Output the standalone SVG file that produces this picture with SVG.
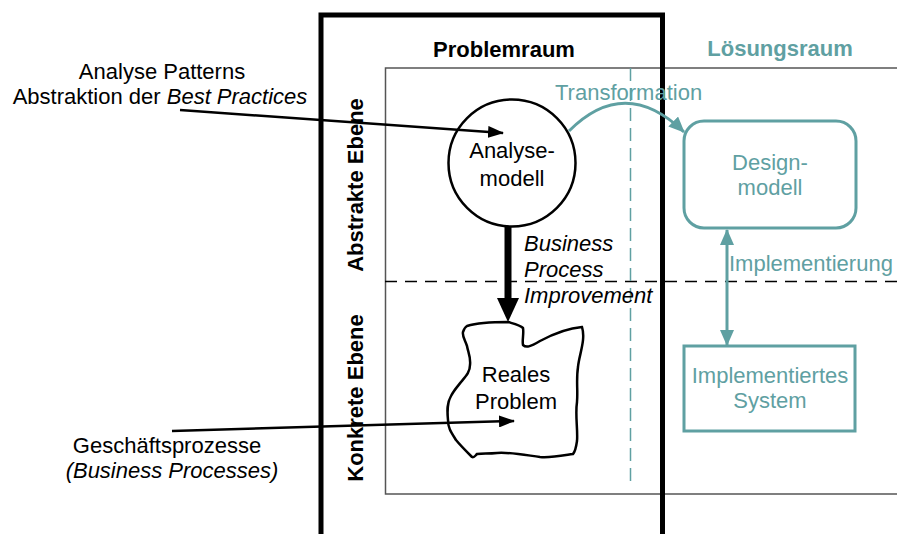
<svg xmlns="http://www.w3.org/2000/svg" width="897" height="534" viewBox="0 0 897 534">
<style>
text{font-family:"Liberation Sans",Arial,sans-serif;font-size:22px;fill:#000}
.b{font-weight:bold}
.i{font-style:italic}
.t{fill:#5fa0a2}
.mid{text-anchor:middle}
.teal{stroke:#5fa0a2;fill:none;stroke-width:3}
.blk{stroke:#000;fill:none;stroke-width:2.5}
</style>
<defs>
<marker id="ab" markerWidth="16" markerHeight="12" refX="15" refY="6" orient="auto" markerUnits="userSpaceOnUse"><path d="M0,0 L16,6 L0,12 z" fill="#000"/></marker>
<marker id="at" markerWidth="16" markerHeight="14" refX="15" refY="7" orient="auto-start-reverse" markerUnits="userSpaceOnUse"><path d="M0,0 L16,7 L0,14 z" fill="#5fa0a2"/></marker>
</defs>
<g id="frames">
<rect x="385.5" y="68" width="530" height="426" fill="none" stroke="#555" stroke-width="1.5"/>
<line x1="385" y1="281.5" x2="897" y2="281.5" stroke="#000" stroke-width="1.3" stroke-dasharray="12,8"/>
<line x1="630.5" y1="68" x2="630.5" y2="488" stroke="#5fa0a2" stroke-width="1.5" stroke-dasharray="13,7"/>
<path d="M321,540 V15 H662.5 V540" fill="none" stroke="#000" stroke-width="5"/>
<text class="b mid" x="504" y="57">Problemraum</text>
<text class="b mid t" x="780" y="56">Lösungsraum</text>
<text class="b mid" transform="translate(363,185) rotate(-90)">Abstrakte Ebene</text>
<text class="b mid" transform="translate(363,398) rotate(-90)">Konkrete Ebene</text>
</g>
<g id="analysemodell">
<circle cx="512" cy="163" r="63.5" fill="#fff" stroke="#000" stroke-width="2.5"/>
<text class="mid" x="512" y="158">Analyse-</text>
<text class="mid" x="512" y="186">modell</text>
</g>
<g id="reales-problem">
<path d="M467,326 C480,322 495,322 508,322 C515,324 520,325 523,328 C524,334 522,340 523,345 C526,348 530,347 540,341 C555,333 570,328 582,327 C586,340 579,355 578,367 C576,380 578,390 577,402 C575,415 578,430 577,441 C576,448 575,452 573,454 C560,456 550,458 540,457 C525,455 510,452 497,453 C488,454 482,453 477,454 C475,456 474,458 472,457 C465,450 460,445 456,440 C451,432 448,428 448,420 C447,410 447,403 451,396 C454,390 458,386 461,382 C466,376 470,372 470,365 C471,357 468,352 467,346 C465,340 462,336 463,332 C464,329 465,327 467,326 z" fill="#fff" stroke="#000" stroke-width="2.5"/>
<text class="mid" x="516" y="382">Reales</text>
<text class="mid" x="516" y="409">Problem</text>
</g>
<g id="designmodell">
<rect x="684" y="121" width="172" height="107" rx="20" class="teal"/>
<text class="mid t" x="770" y="170">Design-</text>
<text class="mid t" x="770" y="195">modell</text>
</g>
<g id="implementiertes-system">
<rect x="684" y="346" width="171" height="85" class="teal"/>
<text class="mid t" x="770" y="383">Implementiertes</text>
<text class="mid t" x="770" y="408">System</text>
</g>
<g id="labels">
<text class="mid" x="162" y="79">Analyse Patterns</text>
<text class="mid" x="160" y="104">Abstraktion der <tspan class="i">Best Practices</tspan></text>
<text class="mid" x="167" y="453">Geschäftsprozesse</text>
<text class="mid i" x="172" y="478">(Business Processes)</text>
</g>
<g id="connectors">
<line x1="180" y1="110" x2="503" y2="133" class="blk" marker-end="url(#ab)"/>
<line x1="172" y1="431" x2="514" y2="421" class="blk" marker-end="url(#ab)"/>
<line x1="508" y1="227" x2="508" y2="300" stroke="#000" stroke-width="7"/>
<path d="M497,298 L519,298 L508,322 z" fill="#000"/>
<text class="i" x="524" y="251">Business</text>
<text class="i" x="524" y="277">Process</text>
<text class="i" x="524" y="303">Improvement</text>
<path d="M569,131 Q625,75 684,132" class="teal" marker-end="url(#at)"/>
<text class="t" x="555" y="100">Transformation</text>
<line x1="727" y1="230" x2="727" y2="345" class="teal" marker-start="url(#at)" marker-end="url(#at)"/>
<text class="t" x="729" y="271">Implementierung</text>
</g>
</svg>
